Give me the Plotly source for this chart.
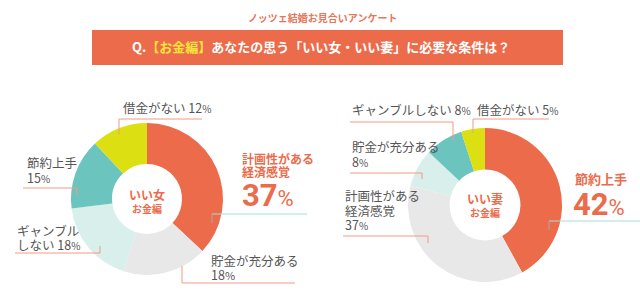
import plotly.graph_objects as go

W, H = 640, 292

# ---- data ----
woman_labels = ["計画性がある経済感覚", "貯金が充分ある", "ギャンブルしない", "節約上手", "借金がない"]
woman_values = [37, 18, 18, 15, 12]
wife_labels = ["節約上手", "計画性がある経済感覚", "貯金が充分ある", "ギャンブルしない", "借金がない"]
wife_values = [42, 37, 8, 8, 5]

woman_colors = ["#EC6B4B", "#E8E8E8", "#D8EFEB", "#6CC4BF", "#DCE012"]
wife_colors = ["#EC6B4B", "#E8E8E8", "#D8EFEB", "#6CC4BF", "#DCE012"]

survey_title = "ノッツェ結婚お見合いアンケート"
question = "Q.<span style='color:#F7E33A'>【お金編】</span>あなたの思う「いい女・いい妻」に必要な条件は？"
center_woman = ("いい女", "お金編")
center_wife = ("いい妻", "お金編")

FONT = "Noto Sans CJK JP"
ORANGE = "#EC6B4B"
GRAY_TXT = "#555555"
SALMON = "#F29A84"
MINT_LINE = "#A8DDD8"
TICK_GRAY = "#A8A8A8"


def px(x):
    return x / W


def py(y):
    return 1 - y / H


def domain(cx, cy, r):
    return dict(x=[px(cx - r), px(cx + r)], y=[py(cy + r), py(cy - r)])


fig = go.Figure()
fig.add_trace(go.Pie(
    labels=woman_labels, values=woman_values, sort=False, direction="clockwise",
    rotation=0, hole=0.46, textinfo="none", hoverinfo="label+percent",
    marker=dict(colors=woman_colors, line=dict(width=0)),
    domain=domain(147, 199, 76), showlegend=False,
))
fig.add_trace(go.Pie(
    labels=wife_labels, values=wife_values, sort=False, direction="clockwise",
    rotation=0, hole=0.46, textinfo="none", hoverinfo="label+percent",
    marker=dict(colors=wife_colors, line=dict(width=0)),
    domain=domain(485, 205, 77), showlegend=False,
))

shapes = []
ann = []


def line(x0, y0, x1, y1, color, w=1):
    shapes.append(dict(type="line", xref="paper", yref="paper",
                       x0=px(x0), y0=py(y0), x1=px(x1), y1=py(y1),
                       line=dict(color=color, width=w)))


def block(x, y_first, y_last, lines, size=12, color=GRAY_TXT, bold=False, xanchor="left", family=FONT):
    """Multi-line text; line spacing is set by the base font size (1.3em)."""
    n = len(lines)
    if n > 1:
        base = (y_last - y_first) / (n - 1) / 1.3
    else:
        base = size
    parts = []
    for s in lines:
        t = f"<span style='font-size:{size}px'>{s}</span>"
        parts.append(f"<b>{t}</b>" if bold else t)
    ann.append(dict(x=px(x), y=py((y_first + y_last) / 2), xref="paper", yref="paper",
                    text="<br>".join(parts), showarrow=False, xanchor=xanchor, yanchor="middle",
                    align=xanchor if xanchor != "center" else "center",
                    font=dict(family=family, size=base, color=color)))


def pct(v, size=12):
    return f"{v}<span style='font-size:{size - 2}px'>%</span>"


def big_pct(v):
    return f"<b>{v}</b><span style='font-size:22px'>%</span>"


# banner
shapes.append(dict(type="rect", xref="paper", yref="paper", x0=px(92), x1=px(563), y0=py(65), y1=py(30),
                   fillcolor="#EC6B4B", line=dict(width=0), layer="below"))
block(322, 17, 17, [survey_title], size=10, color="#E8765A", bold=True, xanchor="center")
ann.append(dict(x=px(321), y=py(47), xref="paper", yref="paper", text=f"<b>{question}</b>", showarrow=False,
                xanchor="center", yanchor="middle", font=dict(family=FONT, size=13, color="white")))

# ---- left donut labels ----
wv = dict(zip(woman_labels, woman_values))
block(121, 108, 108, [f"借金がない {pct(wv['借金がない'])}"], size=12.5)
line(119, 119, 202, 119, SALMON)
line(119, 119, 119, 134, SALMON)

block(240, 158, 171, ["計画性がある", "経済感覚"], size=12, color=ORANGE, bold=True)
ann.append(dict(x=px(240), y=py(195), xref="paper", yref="paper", text=big_pct(wv['計画性がある経済感覚']),
                showarrow=False, xanchor="left", yanchor="middle",
                font=dict(family="Roboto", size=31, color=ORANGE)))
line(212, 214, 307, 214, MINT_LINE)
line(212, 214, 212, 223, TICK_GRAY)

block(209, 260, 274, ["貯金が充分ある", pct(wv['貯金が充分ある'], 13)], size=12.5)
line(182, 283, 295, 283, SALMON)
line(182, 266, 182, 283, SALMON)

block(15, 230, 244, ["ギャンブル", f"しない {pct(wv['ギャンブルしない'])}"], size=12.5)
line(15, 253, 100, 253, SALMON)
line(100, 246, 100, 253, SALMON)

block(25, 162, 177, ["節約上手", pct(wv['節約上手'])], size=12.5)
line(23, 188, 77, 188, SALMON)
line(77, 188, 77, 195, SALMON)

# center labels
block(147, 194, 207, [center_woman[0], f"<span style='font-size:10px'>{center_woman[1]}</span>"],
      size=12, color=ORANGE, bold=True, xanchor="center")

# ---- right donut labels ----
fv = dict(zip(wife_labels, wife_values))
block(350, 109, 109, [f"ギャンブルしない {pct(fv['ギャンブルしない'])}"], size=12.5)
line(350, 122, 453, 122, SALMON)
line(453, 122, 453, 140, SALMON)

block(475, 109, 109, [f"借金がない {pct(fv['借金がない'])}"], size=12.5)
line(473, 119, 549, 119, SALMON)
line(473, 119, 473, 133, SALMON)

block(350, 147, 162, ["貯金が充分ある", pct(fv['貯金が充分ある'])], size=12.5)
line(350, 173, 422, 173, SALMON)
line(422, 173, 422, 179, SALMON)

block(343, 195, 224, ["計画性がある", "経済感覚", pct(fv['計画性がある経済感覚'])], size=12.5)
line(343, 236, 428, 236, SALMON)
line(428, 236, 428, 243, SALMON)

block(573, 178, 178, ["節約上手"], size=13, color=ORANGE, bold=True)
ann.append(dict(x=px(571), y=py(204), xref="paper", yref="paper", text=big_pct(fv['節約上手']),
                showarrow=False, xanchor="left", yanchor="middle",
                font=dict(family="Roboto", size=31, color=ORANGE)))
line(549, 221, 640, 221, MINT_LINE)
line(549, 221, 549, 230, TICK_GRAY)

block(485, 198, 211, [center_wife[0], f"<span style='font-size:10px'>{center_wife[1]}</span>"],
      size=12, color=ORANGE, bold=True, xanchor="center")

fig.update_layout(
    width=W, height=H, margin=dict(l=0, r=0, t=0, b=0),
    paper_bgcolor="white", plot_bgcolor="white",
    shapes=shapes, annotations=ann,
)
fig.write_html("out.html")
